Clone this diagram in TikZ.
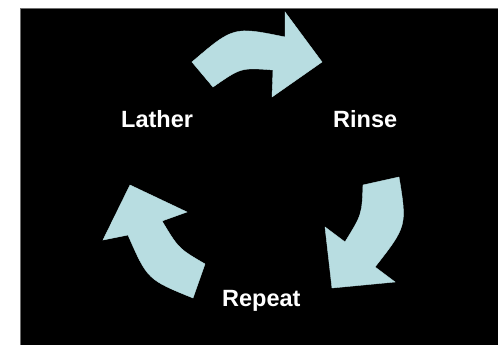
\documentclass[tikz,border=0pt]{standalone}
\usepackage{fontspec}
\setmainfont{Liberation Sans}
\definecolor{arrowblue}{RGB}{184,221,225}
\definecolor{framegray}{RGB}{110,110,110}
\begin{document}
\begin{tikzpicture}[x=1pt,y=-1pt,
  label/.style={text=white,font=\fontsize{23.5}{28}\selectfont\bfseries,inner sep=0pt,anchor=base west},
  blockarrow/.style={fill=arrowblue,draw=arrowblue,line width=0.4pt,line join=miter}]
\useasboundingbox (0,0) rectangle (498,345);
\fill[white] (0,0) rectangle (498,345);
\fill[black] (20,8) rectangle (498,345);
\draw[framegray,line width=0.8pt] (20,345) -- (20,8) -- (498,8);
% top arrow (Lather -> Rinse)
\path[blockarrow] (192,62) .. controls (233.5,26.5) .. (285,37) -- (285,12) -- (322,62) -- (272,97)
  -- (273,70) .. controls (241,67.5) .. (213,87) -- cycle;
% right arrow (Rinse -> Repeat)
\path[blockarrow] (399,177) .. controls (407,226) .. (375,267) -- (395,282) -- (332,288) -- (325,227)
  -- (345,242) .. controls (362,214.5) .. (363,185) -- cycle;
% left arrow (Repeat -> Lather)
\path[blockarrow] (193,298) .. controls (147.5,279.5) .. (128,235) -- (103,240) -- (130,185) -- (187,212)
  -- (162,221) .. controls (178.5,248.5) .. (205,264) -- cycle;
\node[label] (lather) at (121,127) {Lather};
\node[label] (rinse) at (333,127) {Rinse};
\node[label] (repeat) at (222,306) {Repeat};
\end{tikzpicture}
\end{document}
